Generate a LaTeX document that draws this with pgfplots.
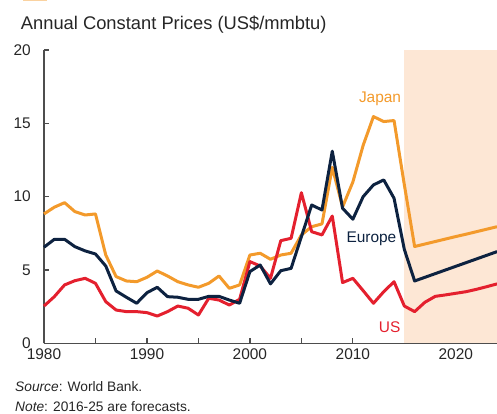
\documentclass[border=0pt]{standalone}
\usepackage{fontspec}
\setmainfont{Liberation Sans}
\usepackage{pgfplots}
\pgfplotsset{compat=1.18}

\definecolor{japan}{HTML}{F39A2B}
\definecolor{europe}{HTML}{0D2240}
\definecolor{us}{HTML}{E4202E}
\definecolor{fcst}{HTML}{FDE7D5}
\definecolor{axgray}{HTML}{4D4D4D}

\pgfplotstableread{
year japan europe us
1980 8.82 6.55 2.54
1981 9.28 7.09 3.18
1982 9.59 7.09 3.98
1983 8.98 6.59 4.27
1984 8.75 6.30 4.43
1985 8.82 6.09 4.09
1986 6.02 5.27 2.84
1987 4.55 3.57 2.27
1988 4.25 3.14 2.16
1989 4.20 2.73 2.16
1990 4.50 3.45 2.09
1991 4.93 3.82 1.86
1992 4.59 3.18 2.16
1993 4.20 3.14 2.54
1994 3.98 3.00 2.39
1995 3.82 3.00 1.93
1996 4.09 3.20 3.07
1997 4.59 3.20 2.95
1998 3.75 2.95 2.61
1999 3.98 2.73 3.00
2000 6.02 4.89 5.57
2001 6.14 5.34 5.27
2002 5.73 4.05 4.43
2003 6.02 4.95 7.00
2004 6.14 5.11 7.16
2005 7.39 7.27 10.27
2006 7.95 9.43 7.61
2007 8.14 9.09 7.39
2008 12.00 13.10 8.68
2009 9.30 9.21 4.14
2010 11.00 8.46 4.43
2011 13.50 10.00 3.59
2012 15.46 10.80 2.73
2013 15.12 11.14 3.52
2014 15.19 9.89 4.20
2015 10.80 6.40 2.54
2016 6.60 4.25 2.16
2017 6.77 4.50 2.80
2018 6.94 4.75 3.20
2019 7.11 5.00 3.30
2020 7.28 5.25 3.41
2021 7.44 5.50 3.52
2022 7.61 5.75 3.68
2023 7.78 6.00 3.86
2024 7.95 6.25 4.05
}\gasdata

\begin{document}
\begin{tikzpicture}
\useasboundingbox (-44bp,-70.7bp) rectangle (453bp,343.3bp);
\fill[japan!45] (-21bp,341.8bp) rectangle (3bp,343.3bp);
\begin{axis}[
    scale only axis,
    width=453bp, height=293.3bp,
    xmin=1980, xmax=2024, ymin=0, ymax=20,
    axis lines=left,
    axis line style={-, draw=axgray, line width=1.2bp},
    tick align=inside,
    major tick length=5bp, minor tick length=5bp,
    tick style={draw=axgray, line width=1.2bp},
    xtick={1980,1990,2000,2010,2020},
    minor xtick={1985,1995,2005,2015},
    ytick={0,5,10,15,20},
    ticklabel style={font=\fontsize{15.5}{18}\selectfont, text=black!85, inner sep=0pt},
    xticklabel style={/pgf/number format/1000 sep={}, yshift=-5bp},
    yticklabel style={xshift=-13bp},
    /pgf/number format/assume math mode=true,
    clip=false,
]
\addplot[draw=none, fill=fcst] coordinates {(2015,0) (2015,20) (2024,20) (2024,0)} -- cycle;
\addplot[japan, line width=3bp, line join=round] table[x=year, y=japan] {\gasdata};
\addplot[us, line width=3bp, line join=round] table[x=year, y=us] {\gasdata};
\addplot[europe, line width=3bp, line join=round] table[x=year, y=europe] {\gasdata};
\node[anchor=base, text=japan, font=\fontsize{15.5}{18}\selectfont, inner sep=0pt] at (axis cs:2012.64,16.41) {Japan};
\node[anchor=base, text=europe, font=\fontsize{15.5}{18}\selectfont, inner sep=0pt] at (axis cs:2011.8,6.84) {Europe};
\node[anchor=base, text=us, font=\fontsize{15.5}{18}\selectfont, inner sep=0pt] at (axis cs:2013.57,0.72) {US};
\end{axis}
\node[anchor=base west, inner sep=0pt, font=\fontsize{18.4}{22}\selectfont, text=black!85] at (-23.3bp,314bp) {Annual Constant Prices (US\$/mmbtu)};
\node[anchor=base west, inner sep=0pt, font=\fontsize{13.8}{16}\selectfont, text=black!85] at (-29bp,-48.4bp) {\textit{Source}: World Bank.};
\node[anchor=base west, inner sep=0pt, font=\fontsize{13.8}{16}\selectfont, text=black!85] at (-29bp,-67.7bp) {\textit{Note}: 2016-25 are forecasts.};
\end{tikzpicture}
\end{document}
